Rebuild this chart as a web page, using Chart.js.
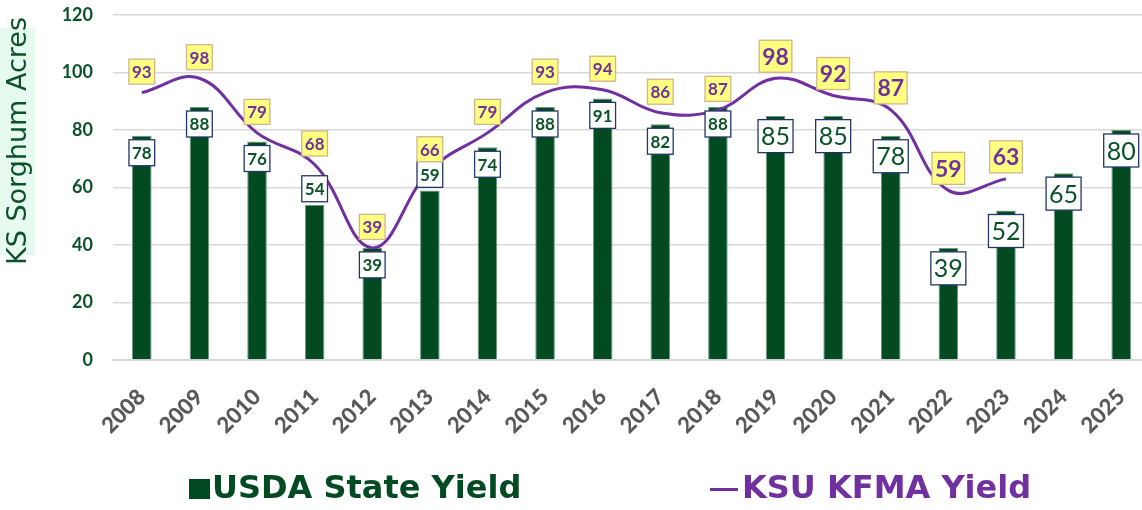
<!DOCTYPE html>
<html>
<head>
<meta charset="utf-8">
<script src="https://cdn.jsdelivr.net/npm/chart.js@4/dist/chart.umd.min.js"></script>
<style>
  html, body { margin: 0; padding: 0; background: #fff; overflow: hidden; }
  canvas { display: block; }
</style>
</head>
<body>
<canvas id="myChart" width="1150" height="510"></canvas>
<script>
const years = ['2008', '2009', '2010', '2011', '2012', '2013', '2014', '2015', '2016',
  '2017', '2018', '2019', '2020', '2021', '2022', '2023', '2024', '2025'];
const usdaYield = [78, 88, 76, 54, 39, 59, 74, 88, 91, 82, 88, 85, 85, 78, 39, 52, 65, 80];
const kfmaYield = [93, 98, 79, 68, 39, 66, 79, 93, 94, 86, 87, 98, 92, 87, 59, 63];
const yTicks = [0, 20, 40, 60, 80, 100, 120];

const GREEN = '#024A22';
const PURPLE = '#7030A0';

// labels that sit above the bar instead of on its top
const raisedLabels = ['2011', '2013'];

function drawBox(ctx, text, cx, cy, opts) {
  ctx.font = opts.font;
  const w = ctx.measureText(text).width + opts.padX * 2;
  const h = opts.h;
  ctx.fillStyle = opts.bg;
  ctx.fillRect(cx - w / 2, cy - h / 2, w, h);
  ctx.strokeStyle = opts.border;
  ctx.lineWidth = 1.3;
  ctx.strokeRect(cx - w / 2, cy - h / 2, w, h);
  ctx.fillStyle = opts.color;
  ctx.textAlign = 'center';
  ctx.textBaseline = 'middle';
  ctx.fillText(text, cx, cy + 1);
}

const valueLabels = {
  id: 'valueLabels',
  afterDatasetsDraw(chart) {
    const ctx = chart.ctx;
    ctx.save();
    // bar labels
    chart.getDatasetMeta(1).data.forEach((bar, i) => {
      const big = i >= 11;
      const h = big ? 33 : 26;
      const off = raisedLabels.includes(years[i]) ? -(h / 2 + 3) : h / 2 + 4;
      drawBox(ctx, String(usdaYield[i]), bar.x, bar.y + off, {
        font: big ? '25px Lato' : 'bold 17px Lato',
        padX: 3,
        h: h,
        bg: '#ffffff',
        border: '#1F3864',
        color: '#0B5229'
      });
    });
    // line labels
    chart.getDatasetMeta(0).data.forEach((pt, i) => {
      if (kfmaYield[i] == null) return;
      const big = i >= 11;
      drawBox(ctx, String(kfmaYield[i]), pt.x, pt.y - (big ? 22 : 21), {
        font: big ? 'bold 23px Lato' : 'bold 17px Lato',
        padX: 3,
        h: big ? 32 : 25,
        bg: '#FFFF80',
        border: '#D2B48C',
        color: PURPLE
      });
    });
    ctx.restore();
  },
  afterDraw(chart) {
    const ctx = chart.ctx;
    const area = chart.chartArea;
    ctx.save();
    // y axis title
    ctx.fillStyle = '#E6FAEF';
    ctx.fillRect(0, 28, 35, 227);
    ctx.translate(18, 141);
    ctx.rotate(-Math.PI / 2);
    ctx.font = '27px "DejaVu Sans"';
    ctx.fillStyle = '#0B5229';
    ctx.textAlign = 'center';
    ctx.textBaseline = 'middle';
    ctx.fillText('KS Sorghum Acres', 0, 1);
    ctx.restore();

    // legend
    ctx.save();
    const baseY = 498;
    ctx.font = 'bold 32px "DejaVu Sans"';
    ctx.textAlign = 'left';
    ctx.textBaseline = 'alphabetic';
    let x = area.left + 76;
    ctx.fillStyle = GREEN;
    ctx.fillRect(x, 479, 21, 20);
    ctx.fillText('USDA State Yield', x + 23, baseY);
    x = area.left + 597;
    ctx.fillStyle = PURPLE;
    ctx.fillRect(x, 488, 28, 3);
    ctx.fillText('KSU KFMA Yield', x + 32, baseY);
    ctx.restore();
  }
};

new Chart(document.getElementById('myChart'), {
  type: 'bar',
  data: {
    labels: years,
    datasets: [
      {
        type: 'line',
        label: 'KSU KFMA Yield',
        data: kfmaYield,
        borderColor: PURPLE,
        backgroundColor: PURPLE,
        borderWidth: 3,
        pointRadius: 0,
        tension: 0.4,
        order: 0,
      },
      {
        label: 'USDA State Yield',
        data: usdaYield,
        backgroundColor: GREEN,
        borderColor: '#6F9A7F',
        borderWidth: 1,
        barPercentage: 0.34,
        categoryPercentage: 1,
        order: 1,
      },
    ],
  },
  options: {
    responsive: false,
    animation: false,
    layout: {
      padding: { top: 15, right: 0, bottom: 70, left: 0 },
    },
    plugins: {
      legend: { display: false },
      tooltip: { enabled: false },
    },
    scales: {
      x: {
        grid: { display: false },
        border: { display: true, color: '#D9D9D9', width: 2 },
        ticks: {
          minRotation: 45,
          maxRotation: 45,
          padding: 16,
          color: '#595959',
          font: { family: 'Lato', weight: '900', size: 22 },
        },
        afterFit(scale) {
          scale.height = 80;
          scale.paddingLeft = 0;
          scale.paddingRight = 0;
        },
      },
      y: {
        min: 0,
        max: 120,
        afterBuildTicks(scale) { scale.ticks = yTicks.map(v => ({ value: v })); },
        grid: { color: '#D9D9D9', lineWidth: 1.5, drawTicks: false },
        border: { display: false },
        ticks: {
          padding: 20,
          color: '#0B5229',
          font: { family: 'Lato', weight: 'bold', size: 18 },
        },
        afterFit(scale) {
          scale.width = 113;
          scale.paddingTop = 0;
          scale.paddingBottom = 0;
        },
      },
    },
  },
  plugins: [valueLabels],
});
</script>
</body>
</html>
